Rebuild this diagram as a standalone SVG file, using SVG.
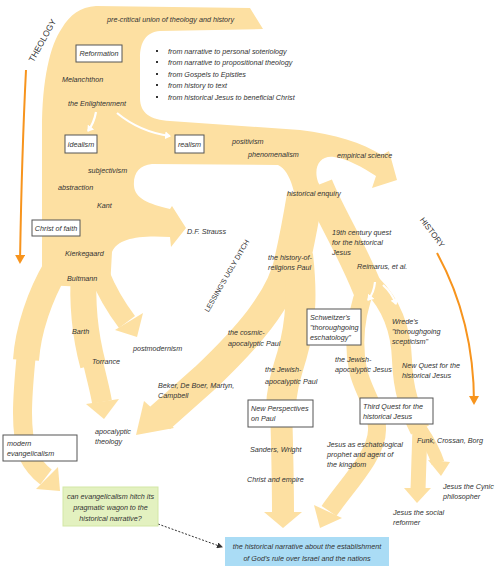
<svg xmlns="http://www.w3.org/2000/svg" width="500" height="568" viewBox="0 0 500 568">
<style>
.band{fill:#fde0a2}
.br{fill:none;stroke:#fde0a2;stroke-linejoin:round}
.t{font-family:"Liberation Sans",Arial,sans-serif;font-size:7.2px;fill:#333;font-style:italic}
.c{text-anchor:middle}
.box{fill:#fff;stroke:#555;stroke-width:1}
.cap{font-family:"Liberation Sans",Arial,sans-serif;fill:#333}
.orange{fill:none;stroke:#f7941d;stroke-width:2}
.wa{fill:none;stroke:#fff;stroke-width:2.2;marker-end:url(#wh)}
</style>
<defs>
<marker id="wh" markerUnits="userSpaceOnUse" markerWidth="8" markerHeight="8" refX="5" refY="4" orient="auto"><path d="M0,0 L6,4 L0,8 Z" fill="#fff"/></marker>
<marker id="oh" markerUnits="userSpaceOnUse" markerWidth="10" markerHeight="10" refX="7" refY="5" orient="auto"><path d="M0,0 L9,5 L0,10 Z" fill="#f7941d"/></marker>
<marker id="dh" markerUnits="userSpaceOnUse" markerWidth="6" markerHeight="6" refX="5" refY="3" orient="auto"><path d="M0,0 L6,3 L0,6 Z" fill="#333"/></marker>
</defs>
<rect width="500" height="568" fill="#fff"/>
<g id="connectors">
<path class="band" d="M42,285 L42,130 C42,80 50,45 62,28 C70,15 80,7 96,6 L250,8 L263,29 L160,31 C146,32 140,42 140,58 L140,98 C140,113 150,120 170,121 L300,130 C335,134 362,143 382,155 L389,151 L397,180 L372,188 L376,176 C362,167 348,159 334,157 C320,155 313,167 318,182 L330,205 L300,222 C295,195 292,172 278,165 L152,164 C139,165 133,174 134,186 C135,198 148,204 170,209 L172,206 L186,228 L171,247 L170,237 C140,235 118,238 112,252 L110,288 Z"/>
<path class="br" stroke-width="26" d="M56,268 C40,295 28,330 26,360"/>
<path class="br" stroke-width="19" d="M26,358 C22,400 20,430 28,455 C33,465 38,471 46,477"/>
<polygon class="band" points="36,489 58,467 60,491"/>
<path class="br" stroke-width="26" d="M84,270 C82,300 85,335 93,365"/>
<path class="br" stroke-width="20" d="M93,362 C97,380 100,390 102,402"/>
<polygon class="band" points="86,404 119,399 104,419"/>
<path class="br" stroke-width="20" d="M100,275 C108,295 118,310 127,322"/>
<polygon class="band" points="115,330 143,313 137,337"/>
<path class="br" stroke-width="36" d="M305,195 C300,225 296,245 292,262"/>
<path class="br" stroke-width="30" d="M290,258 C282,300 245,340 205,378 L160,418"/>
<polygon class="band" points="144,401 174,428 136,435"/>
<path class="br" stroke-width="30" d="M298,255 C302,290 302,320 292,355 C286,375 281,390 281,410"/>
<path class="br" stroke-width="22" d="M281,405 C282,440 283,480 283,514"/>
<polygon class="band" points="264,512 302,512 283,528"/>
<path class="br" stroke-width="30" d="M318,185 C330,215 350,245 368,290"/>
<path class="br" stroke-width="18" d="M367,285 C355,315 353,345 358,370 C362,390 378,410 377,430 C377,455 347,485 329,511"/>
<polygon class="band" points="314,505 342,518 320,528"/>
<path class="br" stroke-width="20" d="M372,285 C392,305 401,330 402,360 C403,390 410,410 420,430"/>
<path class="br" stroke-width="15" d="M420,428 L418,490"/>
<polygon class="band" points="404,488 431,488 417,503"/>
<path class="br" stroke-width="13" d="M420,428 C428,440 434,450 438,463"/>
<polygon class="band" points="428,460 450,462 441,476"/>
<path class="wa" d="M96,112 Q94,123 88,131"/>
<path class="wa" d="M117,113 Q140,132 170,136"/>
<path class="wa" d="M375,282 Q374,293 368,300"/>
<path class="wa" d="M383,285 Q392,293 396,304"/>
<path class="orange" marker-end="url(#oh)" d="M26,70 C23,130 21,200 20,262"/>
<path class="orange" marker-end="url(#oh)" d="M437,253 C460,295 474,345 474,403"/>
<path fill="none" stroke="#333" stroke-width="1" stroke-dasharray="2,1.6" marker-end="url(#dh)" d="M158,524 L222,547"/>
</g>
<g id="theology-label"><text class="cap" font-size="8.5" text-anchor="middle" transform="translate(45,42) rotate(-61)">THEOLOGY</text></g>
<g id="history-label"><text class="cap" font-size="8" text-anchor="middle" transform="translate(430,234) rotate(53)">HISTORY</text></g>
<g id="lessing"><text class="cap" font-size="7.2" text-anchor="middle" transform="translate(229,277) rotate(-60)">LESSING'S UGLY DITCH</text></g>
<g id="precritical"><text class="t" x="107" y="22">pre-critical union of theology and history</text></g>
<g id="reformation"><rect class="box" x="76" y="45" width="46" height="17"/><text class="t c" x="99" y="56">Reformation</text></g>
<g id="melanchthon"><text class="t" x="62" y="82">Melanchthon</text></g>
<g id="enlightenment"><text class="t" x="68" y="106">the Enlightenment</text></g>
<g id="bullets">
<rect x="156" y="50" width="2" height="2" fill="#333"/><text class="t" x="168" y="54">from narrative to personal soteriology</text>
<rect x="156" y="61" width="2" height="2" fill="#333"/><text class="t" x="168" y="65">from narrative to propositional theology</text>
<rect x="156" y="73" width="2" height="2" fill="#333"/><text class="t" x="168" y="77">from Gospels to Epistles</text>
<rect x="156" y="84" width="2" height="2" fill="#333"/><text class="t" x="168" y="88">from history to text</text>
<rect x="156" y="96" width="2" height="2" fill="#333"/><text class="t" x="168" y="100">from historical Jesus to beneficial Christ</text>
</g>
<g id="idealism"><rect class="box" x="65" y="135" width="32" height="18"/><text class="t c" x="81" y="146.5">idealism</text></g>
<g id="realism"><rect class="box" x="175" y="135" width="29" height="18"/><text class="t c" x="189.5" y="146.5">realism</text></g>
<g id="positivism"><text class="t" x="232" y="144">positivism</text></g>
<g id="phenomenalism"><text class="t" x="248" y="157">phenomenalism</text></g>
<g id="empirical"><text class="t" x="337" y="158">empirical science</text></g>
<g id="enquiry"><text class="t" x="287" y="196">historical enquiry</text></g>
<g id="subjectivism"><text class="t" x="88" y="173">subjectivism</text></g>
<g id="abstraction"><text class="t" x="58" y="190">abstraction</text></g>
<g id="kant"><text class="t" x="97" y="208">Kant</text></g>
<g id="christfaith"><rect class="box" x="32" y="220" width="48" height="16"/><text class="t c" x="56" y="230.5">Christ of faith</text></g>
<g id="strauss"><text class="t" x="187" y="234">D.F. Strauss</text></g>
<g id="kierkegaard"><text class="t" x="65" y="256">Kierkegaard</text></g>
<g id="bultmann"><text class="t" x="67" y="281">Bultmann</text></g>
<g id="barth"><text class="t" x="72" y="334">Barth</text></g>
<g id="torrance"><text class="t" x="92" y="364">Torrance</text></g>
<g id="postmodernism"><text class="t" x="133" y="351">postmodernism</text></g>
<g id="beker"><text class="t" x="158" y="388">Beker, De Boer, Martyn,</text><text class="t" x="158" y="398">Campbell</text></g>
<g id="cosmic"><text class="t" x="228" y="335">the cosmic-</text><text class="t" x="228" y="346">apocalyptic Paul</text></g>
<g id="histrel"><text class="t" x="268" y="260">the history-of-</text><text class="t" x="268" y="270">religions Paul</text></g>
<g id="quest19"><text class="t" x="332" y="235">19th century quest</text><text class="t" x="332" y="245">for the historical</text><text class="t" x="332" y="255">Jesus</text></g>
<g id="reimarus"><text class="t" x="357" y="269">Reimarus, et al.</text></g>
<g id="schweitzer"><rect class="box" x="307" y="309" width="54" height="36"/><text class="t" x="310" y="320">Schweitzer's</text><text class="t" x="310" y="330">"thoroughgoing</text><text class="t" x="310" y="340">eschatology"</text></g>
<g id="wrede"><text class="t" x="392" y="324">Wrede's</text><text class="t" x="392" y="334">"thoroughgoing</text><text class="t" x="392" y="344">scepticism"</text></g>
<g id="jewjesus"><text class="t" x="335" y="362">the Jewish-</text><text class="t" x="335" y="372">apocalyptic Jesus</text></g>
<g id="newquest"><text class="t" x="402" y="368">New Quest for the</text><text class="t" x="402" y="378">historical Jesus</text></g>
<g id="jewpaul"><text class="t" x="265" y="372">the Jewish-</text><text class="t" x="265" y="384">apocalyptic Paul</text></g>
<g id="newpersp"><rect class="box" x="248" y="400" width="65" height="27"/><text class="t" x="251" y="411">New Perspectives</text><text class="t" x="251" y="421">on Paul</text></g>
<g id="thirdquest"><rect class="box" x="360" y="398" width="73" height="26"/><text class="t" x="363" y="409">Third Quest for the</text><text class="t" x="363" y="419">historical Jesus</text></g>
<g id="sanders"><text class="t" x="250" y="452">Sanders, Wright</text></g>
<g id="empire"><text class="t" x="247" y="482">Christ and empire</text></g>
<g id="eschprophet"><text class="t" x="327" y="447">Jesus as eschatological</text><text class="t" x="327" y="457">prophet and agent of</text><text class="t" x="327" y="467">the kingdom</text></g>
<g id="funk"><text class="t" x="417" y="443">Funk, Crossan, Borg</text></g>
<g id="cynic"><text class="t" x="443" y="489">Jesus the Cynic</text><text class="t" x="443" y="499">philosopher</text></g>
<g id="social"><text class="t" x="393" y="515">Jesus the social</text><text class="t" x="393" y="525">reformer</text></g>
<g id="modernevang"><rect class="box" x="3" y="435" width="74" height="26"/><text class="t" x="7" y="446">modern</text><text class="t" x="7" y="456">evangelicalism</text></g>
<g id="apoctheology"><text class="t" x="95" y="434">apocalyptic</text><text class="t" x="95" y="444">theology</text></g>
<g id="question"><rect x="63" y="487" width="95" height="39" fill="#e3f1c0" stroke="#d3e7a6"/><text class="t c" x="110.5" y="499">can evangelicalism hitch its</text><text class="t c" x="110.5" y="510">pragmatic wagon to the</text><text class="t c" x="110.5" y="521">historical narrative?</text></g>
<g id="narrative"><rect x="225" y="537" width="164" height="29" fill="#aadcf5"/><text class="t c" x="307" y="549">the historical narrative about the establishment</text><text class="t c" x="307" y="561">of God's rule over Israel and the nations</text></g>
</svg>
